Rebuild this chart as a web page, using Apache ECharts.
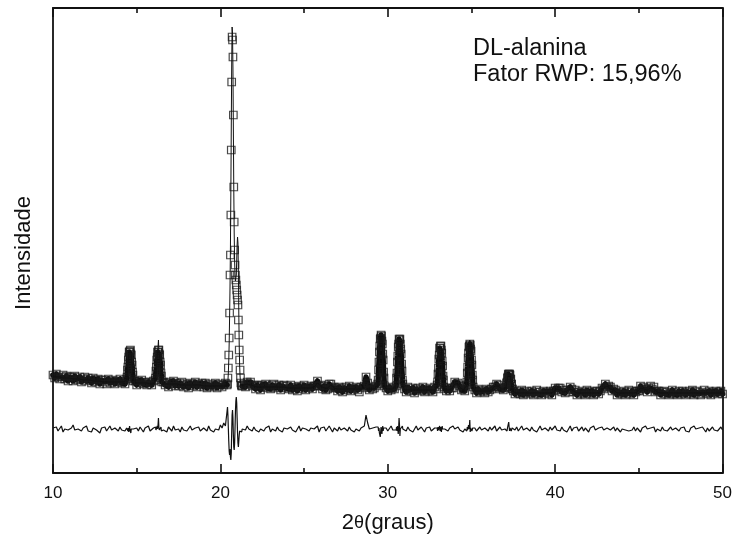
<!DOCTYPE html>
<html>
<head>
<meta charset="utf-8">
<script src="https://cdn.jsdelivr.net/npm/echarts@6/dist/echarts.min.js"></script>
<style>html,body{margin:0;padding:0;background:#fff}#c{width:735px;height:540px}</style>
</head>
<body>
<div id="c"></div>
<script>
// ---- 2theta positions (degrees) ----
const twoTheta = [
10,10.1,10.2,10.3,10.4,10.5,10.6,10.7,10.8,10.9,11,11.1,11.2,11.3,11.4,11.5,11.6,11.7,11.8,11.9,12,12.1,12.2,12.3,12.4,12.5,12.6,12.7,12.8,12.9,13,13.1,13.2,13.3,13.4,13.5,13.6,13.7,13.8,13.9,14,14.1,14.2,14.3,
14.4,14.425,14.45,14.475,14.5,14.525,14.55,14.575,14.6,14.625,14.65,14.675,14.7,14.725,14.75,14.775,14.8,
14.9,15,15.1,15.2,15.3,15.4,15.5,15.6,15.7,15.8,15.9,16,
16.1,16.125,16.15,16.175,16.2,16.225,16.25,16.275,16.3,16.325,16.35,16.375,16.4,16.425,16.45,16.475,16.5,
16.6,16.7,16.8,16.9,17,17.1,17.2,17.3,17.4,17.5,17.6,17.7,17.8,17.9,18,18.1,18.2,18.3,18.4,18.5,18.6,18.7,18.8,18.9,19,19.1,19.2,19.3,19.4,19.5,19.6,19.7,19.8,19.9,20,20.1,20.2,20.3,
20.4,20.425,20.45,20.475,20.5,20.525,20.55,20.575,20.6,20.625,20.65,20.675,20.7,20.725,20.75,20.775,20.8,20.825,20.85,20.875,20.9,20.925,20.95,20.975,21,21.025,21.05,21.075,21.1,21.125,21.15,21.175,21.2,21.225,21.25,21.275,21.3,
21.4,21.5,21.6,21.7,21.8,21.9,22,
22.1,22.2,22.3,22.4,22.5,22.6,22.7,22.8,22.9,23,23.1,23.2,23.3,23.4,23.5,23.6,23.7,23.8,23.9,
24,24.1,24.2,24.3,24.4,24.5,24.6,24.7,24.8,24.9,25,25.1,25.2,25.3,25.4,25.5,
25.6,25.7,25.8,25.9,26,26.1,
26.2,26.3,
26.4,26.5,26.6,26.7,26.8,
26.9,27,27.1,27.2,27.3,27.4,27.5,27.6,27.7,27.8,27.9,28,28.1,28.2,28.3,28.4,28.5,28.6,28.7,28.8,28.9,29,29.1,29.2,29.3,
29.4,29.425,29.45,29.475,29.5,29.525,29.55,29.575,29.6,29.625,29.65,29.675,29.7,29.725,29.75,29.775,29.8,
29.9,30,30.1,30.2,30.3,30.4,
30.5,30.525,30.55,30.575,30.6,30.625,30.65,30.675,30.7,30.725,30.75,30.775,30.8,30.825,30.85,30.875,30.9,
31,31.1,31.2,31.3,31.4,31.5,31.6,31.7,31.8,31.9,32,32.1,32.2,32.3,32.4,32.5,32.6,32.7,32.8,32.9,
32.95,32.975,33,33.025,33.05,33.075,33.1,33.125,33.15,33.175,33.2,33.225,33.25,33.275,33.3,33.325,33.35,
33.4,33.5,33.6,33.7,33.8,33.9,34,34.1,34.2,34.3,34.4,34.5,34.6,
34.7,34.725,34.75,34.775,34.8,34.825,34.85,34.875,34.9,34.925,34.95,34.975,35,35.025,35.05,35.075,35.1,
35.2,35.3,35.4,35.5,35.6,35.7,35.8,35.9,36,36.1,36.2,36.3,36.4,36.5,36.6,36.7,36.8,36.9,37,
37.05,37.075,37.1,37.125,37.15,37.175,37.2,37.225,37.25,37.275,37.3,37.325,37.35,37.375,37.4,37.425,37.45,
37.5,37.6,37.7,37.8,37.9,38,38.1,38.2,38.3,38.4,
38.5,38.6,38.7,38.8,38.9,39,39.1,39.2,39.3,39.4,
39.5,39.6,39.7,39.8,39.9,40,40.1,40.2,40.3,40.4,
40.5,40.6,40.7,40.8,40.9,41,41.1,41.2,41.3,41.4,
41.5,41.6,41.7,41.8,41.9,42,42.1,42.2,42.3,42.4,
42.5,42.6,42.7,42.8,42.9,43,43.1,43.2,43.3,43.4,
43.5,43.6,43.7,43.8,43.9,44,44.1,44.2,44.3,44.4,
44.5,44.6,44.7,44.8,44.9,45,45.1,45.2,45.3,45.4,
45.5,45.6,45.7,45.8,45.9,46,46.1,46.2,46.3,46.4,
46.5,46.6,46.7,46.8,46.9,47,47.1,47.2,47.3,47.4,
47.5,47.6,47.7,47.8,47.9,48,48.1,48.2,48.3,48.4,
48.5,48.6,48.7,48.8,48.9,49,49.1,49.2,49.3,49.4,
49.5,49.6,49.7,49.8,49.9,50
];

// ---- observed intensity (open squares) ----
const observed = [
98,95,99,96,94,96,98,94,97,92,96,96,92,97,94,93,96,91,94,96,92,95,93,90,95,93,91,94,89,93,93,91,89,94,90,92,93,89,92,91,94,90,92,89,
94,96,103,106,113,116,121,121,122,123,119,118,111,108,101,98,92,
92,88,92,90,93,89,91,88,91,90,88,92,
93,95,102,106,113,116,121,121,123,123,119,118,111,108,100,97,91,
91,88,90,86,91,89,92,87,90,87,90,91,86,88,89,85,90,89,87,91,86,89,88,90,86,90,85,88,89,86,87,90,85,88,89,86,88,90,
88,89,95,105,118,135,160,198,218,258,323,391,436,433,416,358,286,251,223,208,198,193,188,183,178,173,168,153,138,123,113,103,95,90,88,87,87,
89,86,91,89,91,87,88,
84,88,87,83,88,86,89,85,87,84,88,89,85,86,88,83,87,88,85,
87,84,88,83,85,86,82,87,86,84,88,83,86,85,87,84,
87,87,92,87,88,84,
87,83,
84,89,89,85,86,
85,82,86,84,81,85,86,83,87,82,85,84,86,83,81,86,85,87,96,90,83,86,84,85,87,
89,93,103,111,121,127,134,135,138,137,132,129,119,113,101,95,87,
85,82,86,83,85,84,
87,95,100,111,117,126,129,134,133,134,129,124,119,109,102,93,89,
84,81,86,83,82,85,80,84,85,82,83,86,81,84,82,85,83,81,86,84,
88,91,99,105,114,118,125,125,127,127,123,120,112,107,97,93,86,
84,82,85,82,85,85,91,89,90,87,83,84,82,
88,91,100,106,115,120,126,127,129,128,124,122,113,108,98,93,86,
83,80,84,81,83,82,80,84,81,83,84,86,86,89,88,84,85,83,85,
86,86,90,91,95,96,99,98,99,99,98,94,94,89,89,84,84,
82,79,82,80,79,83,78,81,82,79,
80,82,78,81,83,79,81,78,82,80,
81,79,82,78,82,85,83,85,85,81,
83,80,83,81,86,84,81,83,78,81,
79,82,80,78,83,81,79,82,78,81,
82,79,82,85,84,89,86,87,86,82,
84,83,78,81,80,79,82,78,81,83,
79,82,78,81,82,82,87,84,86,84,
81,85,87,84,86,81,82,82,78,81,
82,79,81,78,80,83,79,81,78,82,
79,82,80,78,81,82,79,83,78,81,
82,79,78,81,83,80,79,82,78,81,
80,82,79,81,82,79
];

// ---- calculated profile (line) ----
const calculated = [
96,96,96,96,96,95,95,95,95,95,95,94,94,94,94,94,94,93,93,93,93,93,93,92,92,92,92,92,92,92,91,91,91,91,91,91,91,91,91,91,91,91,91,91,
93,97,102,107,112,117,120,122,123,122,120,117,112,107,102,97,93,
91,90,90,90,90,90,90,90,89,89,89,89,
92,96,101,107,112,117,120,122,133,122,120,117,112,107,101,96,92,
89,89,89,89,89,89,89,89,89,88,88,88,88,88,88,88,88,88,88,88,88,88,88,88,87,87,87,87,87,87,87,87,87,87,87,87,87,87,
87,88,92,100,112,130,155,185,225,280,345,405,446,440,405,345,285,240,212,198,192,192,198,212,228,236,230,200,160,128,108,97,91,88,87,87,86,
88,88,89,89,88,88,87,
86,86,86,86,86,86,86,86,86,86,86,86,86,86,86,86,86,86,86,
85,85,85,85,85,85,85,85,85,85,85,85,85,85,85,85,
86,88,90,89,87,85,
85,84,
85,87,88,87,85,
84,84,84,84,84,84,84,84,84,84,84,84,84,84,84,84,84,84,84,84,84,84,84,84,84,
88,94,102,112,120,128,133,136,138,136,133,128,120,112,102,94,88,
84,84,84,84,84,84,
88,94,101,110,118,125,130,133,134,133,130,125,118,110,101,94,88,
83,83,83,83,83,83,83,83,83,83,83,83,83,83,83,83,83,83,83,83,
87,92,98,106,113,119,124,126,127,126,124,119,113,106,98,92,87,
83,83,83,83,84,86,89,90,89,86,84,83,83,
87,92,99,107,114,121,125,128,133,128,125,121,114,107,99,92,87,
82,82,82,82,82,82,82,82,82,82,83,85,87,88,87,85,84,84,84,
85,87,89,92,94,97,98,99,100,98,97,95,93,90,88,85,83,
81,81,80,80,80,80,80,80,80,80,
80,80,80,80,80,80,80,80,80,80,
80,80,80,80,81,83,84,84,83,82,
81,81,82,83,84,83,82,81,80,80,
80,80,80,80,80,80,80,80,80,80,
80,80,81,83,85,87,87,86,84,84,
83,81,80,80,80,80,80,80,80,80,
80,80,80,80,81,83,85,85,84,83,
83,84,85,85,84,82,81,80,80,80,
80,80,80,80,80,80,80,80,80,80,
80,80,80,80,80,80,80,80,80,80,
80,80,80,80,80,80,80,80,80,80,
80,80,80,80,80,80
];

// ---- difference curve (obs - calc, offset below) ----
const difference = [
45,43,46,42,44,47,41,44,46,43,42,45,48,43,41,44,46,42,45,43,47,42,44,41,45,46,43,44,40,45,43,46,42,44,47,43,41,45,44,42,46,43,45,42,
45,43,46,42,45,41,44,47,43,45,40,44,46,43,45,42,44,
43,45,42,46,44,41,45,43,47,42,44,45,
44,46,43,45,42,47,44,48,55,46,43,45,41,44,46,42,44,
43,45,41,46,44,42,47,43,45,44,41,46,43,45,42,44,47,43,41,45,44,46,42,43,45,44,42,47,43,45,41,44,46,43,48,45,50,47,
62,66,58,45,32,22,18,24,16,13,20,40,58,63,55,38,26,23,30,45,62,72,76,70,55,40,30,26,32,38,42,41,44,42,43,41,44,
46,43,47,44,45,42,46,
43,45,41,44,46,42,45,43,47,41,44,45,42,46,43,44,41,45,43,
44,42,46,43,45,41,44,47,42,45,43,44,46,42,45,43,
44,42,47,41,45,43,
46,42,
43,47,44,41,45,
44,42,46,43,41,45,44,42,46,43,45,41,44,46,42,45,43,47,58,50,44,42,45,43,46,
44,46,42,45,40,38,36,41,46,43,39,44,47,42,45,43,44,
45,42,44,47,43,45,
43,46,42,47,44,39,45,55,48,37,44,46,42,45,43,47,44,
44,42,46,43,45,41,44,47,43,42,46,44,41,45,43,46,42,44,45,43,
45,42,46,43,41,45,47,42,44,46,41,43,47,44,42,45,43,
44,46,42,45,43,47,44,42,46,43,45,41,44,
44,42,46,43,45,48,44,47,53,41,45,43,46,42,44,45,43,
45,42,44,46,43,41,45,44,42,46,43,45,47,42,44,46,43,45,44,
44,43,46,42,45,47,44,51,46,42,45,43,46,42,44,45,43,
45,43,46,42,44,47,43,41,45,44,
42,46,43,45,41,44,47,43,42,45,
44,42,46,43,45,47,43,44,42,46,
43,45,41,44,47,42,45,43,46,42,
44,46,42,45,43,41,45,44,47,43,
42,45,44,46,43,42,45,47,43,44,
46,42,45,43,41,44,46,43,45,42,
44,43,46,42,45,44,41,45,43,47,
44,42,45,43,46,41,44,45,42,46,
43,45,42,44,46,43,41,45,44,42,
45,43,46,42,44,41,45,43,47,44,
42,45,43,46,44,41,45,42,44,46,
43,45,42,44,46,43
];

const xTicks = [10, 20, 30, 40, 50];
const annotation = ['DL-alanina', 'Fator RWP: 15,96%'];
const yTitle = 'Intensidade';
// range where the observed squares are drawn without the dense band (strongest reflection)
const mainPeakRange = [20.42, 21.28];

if (observed.length !== twoTheta.length || calculated.length !== twoTheta.length || difference.length !== twoTheta.length) {
  throw new Error('length mismatch x=' + twoTheta.length + ' obs=' + observed.length + ' calc=' + calculated.length + ' diff=' + difference.length);
}

const pair = arr => twoTheta.map((t, i) => [t, arr[i]]);
const bandData = twoTheta.map((t, i) => [t, (t > mainPeakRange[0] && t < mainPeakRange[1]) ? '-' : observed[i]]);
const FONT = '"Liberation Sans", Arial, sans-serif';
const INK = '#111';

const chart = echarts.init(document.getElementById('c'), null, {renderer: 'canvas'});
const xCommon = {
  type: 'value', min: xTicks[0], max: xTicks[xTicks.length - 1], interval: 10,
  splitLine: {show: false},
  axisLine: {show: true, onZero: false, lineStyle: {color: INK, width: 1.8}},
  axisTick: {show: true, inside: true, length: 9, lineStyle: {color: INK, width: 1.6}},
  minorTick: {show: true, splitNumber: 2, length: 5, lineStyle: {color: INK, width: 1.6}}
};
chart.setOption({
  animation: false,
  backgroundColor: '#fff',
  grid: {left: 53, right: 10, top: 8, bottom: 67},
  xAxis: [
    Object.assign({}, xCommon, {
      position: 'bottom',
      axisLabel: {show: true, fontSize: 17, color: INK, fontFamily: FONT, margin: 12},
      name: '{n|2}{t|θ}{n|(graus)}',
      nameLocation: 'middle', nameGap: 39,
      nameTextStyle: {fontFamily: FONT, color: INK, fontSize: 22,
        rich: {n: {fontSize: 22, fontFamily: FONT, color: INK}, t: {fontSize: 18, fontFamily: FONT, color: INK}}}
    }),
    Object.assign({}, xCommon, {position: 'top', axisLabel: {show: false}})
  ],
  yAxis: [
    {type: 'value', min: 0, max: 465, position: 'left',
     splitLine: {show: false}, axisTick: {show: false}, axisLabel: {show: false},
     axisLine: {show: true, onZero: false, lineStyle: {color: INK, width: 1.8}}},
    {type: 'value', min: 0, max: 465, position: 'right',
     splitLine: {show: false}, axisTick: {show: false}, axisLabel: {show: false},
     axisLine: {show: true, onZero: false, lineStyle: {color: INK, width: 1.8}}}
  ],
  series: [
    {name: 'observado-faixa', type: 'line', data: bandData, showSymbol: false, symbol: 'none',
     connectNulls: false, lineStyle: {color: '#0d0d0d', width: 5.5, join: 'round', cap: 'round'}, z: 1, silent: true},
    {name: 'observado', type: 'scatter', data: pair(observed), symbol: 'rect', symbolSize: 7.5,
     itemStyle: {color: 'rgba(0,0,0,0)', borderColor: '#1a1a1a', borderWidth: 1.2}, z: 2, silent: true},
    {name: 'calculado', type: 'line', data: pair(calculated), showSymbol: false, symbol: 'none',
     lineStyle: {color: '#111', width: 1}, z: 3, silent: true},
    {name: 'diferença', type: 'line', data: pair(difference), showSymbol: false, symbol: 'none',
     lineStyle: {color: '#111', width: 1.2}, z: 3, silent: true}
  ],
  graphic: [
    {type: 'text', x: 24, y: 253, rotation: Math.PI / 2,
     style: {text: yTitle, fontSize: 22, fontFamily: FONT, fill: INK, align: 'center', verticalAlign: 'middle'}},
    {type: 'text', x: 473, y: 49, style: {text: annotation[0], fontSize: 23.5, fontFamily: FONT, fill: INK, verticalAlign: 'middle'}},
    {type: 'text', x: 473, y: 75, style: {text: annotation[1], fontSize: 23.5, fontFamily: FONT, fill: INK, verticalAlign: 'middle'}}
  ]
});
</script>
</body>
</html>
